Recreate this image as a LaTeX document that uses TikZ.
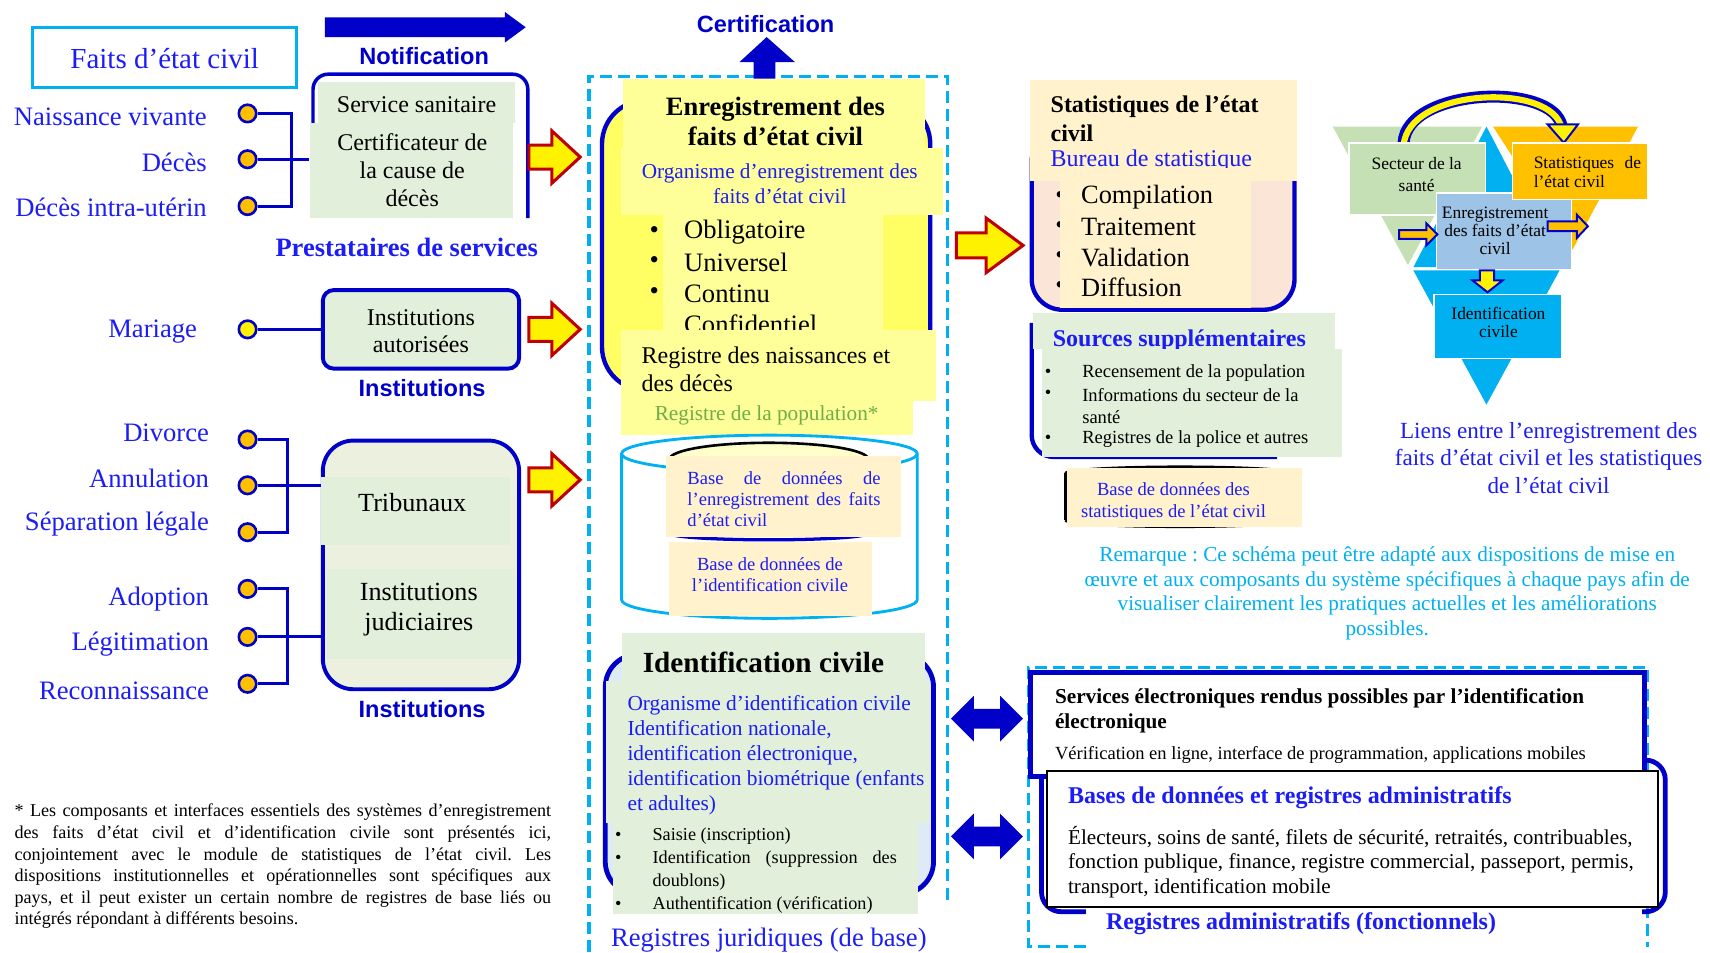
\documentclass[tikz,border=0pt]{standalone}
\usepackage{fontspec}
\setmainfont{Liberation Serif}
\setsansfont{Liberation Sans}
\usepackage{tikz}
\usetikzlibrary{fit}
\definecolor{tblue}{RGB}{28,28,245}
\definecolor{dblue}{RGB}{0,0,200}
\definecolor{cyanb}{RGB}{0,176,240}
\definecolor{pgreen}{RGB}{226,239,218}
\definecolor{bgreen}{RGB}{235,241,222}
\definecolor{yfill}{RGB}{255,255,100}
\definecolor{ypanel}{RGB}{255,255,153}
\definecolor{ylight}{RGB}{255,255,204}
\definecolor{peach}{RGB}{255,242,204}
\definecolor{pinkfill}{RGB}{251,229,214}
\definecolor{idfill}{RGB}{222,235,247}
\definecolor{orng}{RGB}{255,192,0}
\definecolor{dred}{RGB}{192,0,0}
\definecolor{popgreen}{RGB}{112,173,71}
\definecolor{trigreen}{RGB}{197,224,180}
\definecolor{triblue}{RGB}{157,195,230}
\newcommand{\fsz}[2]{\fontsize{#1}{#2}\selectfont}
\frenchspacing
\tikzstyle{evtdot}=[circle, draw=dblue, line width=1.2pt, fill=orng, inner sep=0pt, minimum size=8pt]
\tikzstyle{evtlabel}=[anchor=east, inner sep=0pt, text=tblue, font=\fsz{12.2}{14}]
\tikzstyle{link}=[draw=dblue, line width=1.3pt]
\tikzstyle{rolelabel}=[inner sep=0pt, text=dblue, font=\sffamily\bfseries\fsz{10.8}{12}]
\tikzstyle{blockbox}=[inner sep=0pt, draw=dblue, line width=1.8pt]
\tikzstyle{txt}=[inner sep=0pt]
\tikzstyle{fatarrow}=[draw=dred, fill=yellow, line width=1.4pt, line join=miter]
\tikzstyle{minibox}=[inner sep=0pt, draw=white, line width=0.6pt]
\tikzstyle{minarrow}=[draw=dblue, line width=0.9pt, line join=miter]
\tikzstyle{dashbox}=[draw=cyanb, line width=1.5pt, dash pattern=on 5.5pt off 2.8pt]
\tikzset{pics/yarrow/.style={code={\draw[fatarrow] (0,-11) -- (21,-11) -- (21,-24) -- (47,0) -- (21,24) -- (21,11) -- (0,11) -- cycle;}}}
\tikzset{pics/dblarrow/.style={code={\fill[dblue] (-33,0) -- (-12,-21) -- (-12,-9) -- (12,-9) -- (12,-21) -- (33,0) -- (12,21) -- (12,9) -- (-12,9) -- (-12,21) -- cycle;}}}

\begin{document}
\begin{tikzpicture}[x=0.5pt, y=-0.5pt]
\useasboundingbox (0,0) rectangle (1568,873);

\begin{scope}
  \node[inner sep=0pt, draw=cyanb, line width=1.5pt, fit={(30,25) (272,80)}] (faits) {};
  \node[txt, text=tblue, font=\fsz{13.3}{16}] (faitstxt) at (151,54) {Faits d’état civil};
  \fill[dblue] (298,16) -- (463,16) -- (463,11) -- (482,25) -- (463,39) -- (463,34) -- (298,34) -- cycle;
  \node[rolelabel] (notif) at (389,51) {Notification};

  \draw[dblue, line width=1.6pt, rounded corners=7pt] (287,150) |- (484,68) -- (484,200);
  \node[inner sep=0pt, fit={(284,68) (484,200)}] (svc) {};
  \fill[pgreen] (292,75) rectangle (472,113);
  \fill[pgreen] (284,113) rectangle (470,200);
  \node[txt, font=\fsz{11}{13}] (svcsan) at (382,96) {Service sanitaire};
  \node[txt, font=\fsz{11}{12.8}, align=center] (cert) at (378,156) {Certificateur de\\la cause de\\décès};

  \node[evtdot] (nv) at (227,104) {};
  \node[evtdot] (dc) at (227,146) {};
  \node[evtdot] (diu) at (227,189) {};
  \node[evtlabel] (lnv) at (190,107) {Naissance vivante};
  \node[evtlabel] (ldc) at (190,149) {Décès};
  \node[evtlabel] (ldiu) at (190,190) {Décès intra-utérin};
  \node[txt, text=tblue, font=\bfseries\fsz{12.15}{14}] (prest) at (373,227) {Prestataires de services};

  \node[evtdot, fill=yellow] (mar) at (227,302) {};
  \node[evtlabel] (lmar) at (181,304) {Mariage};
  \node[blockbox, rounded corners=5pt, fill=pgreen, fit={(296,266) (476,338)}] (auto) {};
  \node[txt, font=\fsz{11}{12.5}, align=center] (autotxt) at (386,303.5) {Institutions\\autorisées};
  \node[rolelabel] (inst1) at (387,356) {Institutions};

  \node[blockbox, rounded corners=14pt, fill=bgreen, fit={(296,404) (476,632)}] (jud) {};
  \fill[pgreen] (294,437) rectangle (468,500);
  \fill[pgreen] (300,522) rectangle (472,604);
  \node[txt, font=\fsz{12}{14}] (tribtxt) at (378,461) {Tribunaux};
  \node[txt, font=\fsz{12}{14}, align=center] (judtxt) at (384,559) {Institutions\\judiciaires};
  \foreach \nm/\yy/\lab/\ly in {div/403/Divorce/397, ann/445/Annulation/439, sep/488/Séparation légale/481, ado/540/Adoption/549, leg/584/Légitimation/591, rec/627/Reconnaissance/633}{
    \node[evtdot] (\nm) at (227,\yy) {};
    \node[evtlabel] (l\nm) at (192,\ly) {\lab};
  }
  \node[rolelabel] (inst2) at (387,650) {Institutions};
  \coordinate (j1) at (267,146);
  \coordinate (j2) at (264,445);
  \coordinate (j3) at (264,584);
\end{scope}

\begin{scope}
  \draw[link] (nv) -| (j1) |- (diu);
  \draw[link] (dc) -- (dc -| svc.west);
  \draw[link] (mar) -- (auto);
  \draw[link] (div) -| (j2) |- (sep);
  \draw[link] (ann) -- (ann -| jud.west);
  \draw[link] (ado) -| (j3) |- (rec);
  \draw[link] (leg) -- (leg -| jud.west);
  \pic at (485,144) {yarrow};
  \pic at (485,302) {yarrow};
  \pic at (485,440) {yarrow};
\end{scope}

\node[txt, anchor=north west, text width=246pt, align=justify, font=\fsz{8.3}{9.9}] (note) at (13,737) {\hyphenpenalty=10000 * Les composants et interfaces essentiels des systèmes d’enregistrement\linebreak des faits d’état civil et d’identification civile sont présentés ici,\linebreak conjointement avec le module de statistiques de l’état civil. Les\linebreak dispositions institutionnelles et opérationnelles sont spécifiques aux\linebreak pays, et il peut exister un certain nombre de registres de base liés ou\linebreak intégrés répondant à différents besoins.};

\begin{scope}
  \draw[dashbox] (540,873) -- (540,70) -- (869,70) -- (869,830);
  \fill[dblue] (691,72) -- (691,57) -- (678,57) -- (703,34) -- (729,57) -- (711,57) -- (711,72) -- cycle;
  \node[rolelabel] (certif) at (702,22) {Certification};

  \node[blockbox, line width=2pt, rounded corners=20pt, fill=yfill, fit={(552,92) (853,358)}] (enreg) {};
  \fill[ypanel] (571,72) rectangle (848,136);
  \node[txt, font=\bfseries\fsz{12.15}{13.5}, align=center] (enregtitle) at (711,111.5) {Enregistrement des\\faits d’état civil};
  \fill[ypanel] (569,136) rectangle (865,197);
  \node[txt, text=tblue, font=\fsz{9.75}{11.5}, align=center] (enregorg) at (715,168.5) {Organisme d’enregistrement des\\faits d’état civil};
  \fill[ypanel] (608,197) rectangle (810,303);
  \foreach \t [count=\i] in {Obligatoire, Universel, Continu}{
    \node[txt, font=\fsz{12.2}{14}] (eb\i) at (600,185+28*\i) {\textbullet};
    \node[txt, anchor=west, font=\fsz{12.2}{14}] (eq\i) at (627,185+28*\i) {\t};
  }
  \node[txt, anchor=west, font=\fsz{12.2}{14}] (eq4) at (627,297) {Confidentiel};
  \fill[ypanel] (569,303) rectangle (858,368);
  \node[txt, anchor=west, align=left, font=\fsz{11}{12.5}] (regnd) at (588,338.5) {Registre des naissances et\\des décès};
  \fill[ypanel] (569,368) rectangle (837,399);
  \node[txt, text=popgreen, font=\fsz{9.75}{11}] (regpop) at (703,381) {Registre de la population*};

  \draw[cyanb, line width=1.3pt, fill=white] (570,416) -- (570,550) arc[start angle=180, end angle=0, x radius=135.5, y radius=17] -- (841,416);
  \draw[cyanb, line width=1.3pt] (705.5,416) ellipse [x radius=135.5, y radius=17];
  \draw[black, line width=1.2pt, fill=ylight] (705,421) ellipse [x radius=91, y radius=15];
  \draw[dblue, line width=1.5pt] (614,489) arc[start angle=180, end angle=0, x radius=91, y radius=6];
  \fill[peach] (611,418) rectangle (826,492);
  \node[txt, anchor=west, text=tblue, text width=88.5pt, align=justify, font=\fsz{8.5}{9.75}] (dbec) at (630,457.5) {Base de données de\linebreak l’enregistrement des faits\linebreak d’état civil};
  \fill[peach] (613,497) rectangle (800,565);
  \node[txt, text=tblue, align=center, font=\fsz{8.5}{10}] (dbid) at (706,527) {Base de données de\\l’identification civile};

  \node[blockbox, line width=2.2pt, rounded corners=15pt, fill=idfill, fit={(555,600) (856,820)}] (idciv) {};
  \fill[pgreen] (570,580) rectangle (848,624);
  \node[txt, font=\bfseries\fsz{13.4}{15}] (idtitle) at (700,607) {Identification civile};
  \fill[pgreen] (556,624) rectangle (853,755);
  \node[txt, anchor=west, align=left, text=tblue, font=\fsz{9.8}{11.4}] (idorg) at (575,692.5) {Organisme d’identification civile\\Identification nationale,\\identification électronique,\\identification biométrique (enfants\\et adultes)};
  \fill[pgreen] (562,755) rectangle (842,838);
  \foreach \yy in {767,788,830}{
    \node[txt, font=\fsz{8.35}{10}] (idb\yy) at (567,\yy) {\textbullet};
  }
  \node[txt, anchor=west, font=\fsz{8.35}{10}] (ids1) at (598,767) {Saisie (inscription)};
  \node[txt, anchor=west, font=\fsz{8.35}{10}] (ids2) at (598,788) {\makebox[112pt][s]{Identification (suppression des}};
  \node[txt, anchor=west, font=\fsz{8.35}{10}] (ids3) at (598,809) {doublons)};
  \node[txt, anchor=west, font=\fsz{8.35}{10}] (ids4) at (598,830) {Authentification (vérification)};
  \node[txt, text=tblue, font=\fsz{12.2}{14}] (regjur) at (705,862) {Registres juridiques (de base)};

  \pic at (905,659) {dblarrow};
  \pic at (905,767) {dblarrow};
  \pic[xscale=1.3, yscale=1.04] at (877,225) {yarrow};
\end{scope}

\begin{scope}
  \node[blockbox, line width=2pt, rounded corners=14pt, fill=pinkfill, fit={(946,120) (1187,284)}] (stats) {};
  \fill[peach] (944,73) rectangle (1189,166);
  \node[txt, anchor=west, align=left, font=\bfseries\fsz{11}{13}] (statstitle) at (963,109) {Statistiques de l’état\\civil};
  \begin{scope}
    \clip (944,73) rectangle (1189,154);
    \node[txt, anchor=west, text=tblue, font=\fsz{11}{13}] (bureau) at (963,147) {Bureau de statistique};
  \end{scope}
  \foreach \t [count=\i] in {Compilation, Traitement, Validation, Diffusion}{
    \node[txt, font=\fsz{12.1}{14}] (sb\i) at (972,153+27.7*\i) {\textbullet};
  }
  \fill[peach] (972,166) rectangle (1147,282);
  \foreach \t [count=\i] in {Compilation, Traitement, Validation, Diffusion}{
    \node[txt, anchor=west, font=\fsz{12.1}{14}] (sq\i) at (991,153+27.7*\i) {\t};
  }

  \draw[dblue, line width=2pt, rounded corners=10pt] (946,296) |- (1171,419);
  \node[inner sep=0pt, fit={(946,287) (1231,419)}] (sources) {};
  \fill[pgreen] (947,287) rectangle (1224,320);
  \node[txt, anchor=west, text=tblue, font=\bfseries\fsz{11}{13}] (srctitle) at (965,312) {Sources supplémentaires};
  \fill[pgreen] (955,320) rectangle (1231,419);
  \foreach \yy in {342,362,403}{
    \node[txt, font=\fsz{8.5}{10}] (srcb\yy) at (961,\yy) {\textbullet};
  }
  \begin{scope}
    \clip (955,320) rectangle (1231,410);
    \node[txt, anchor=west, font=\fsz{8.5}{10.25}] (src1) at (992,342) {Recensement de la population};
    \node[txt, anchor=west, align=left, font=\fsz{8.5}{10.25}] (src2) at (992,372.5) {Informations du secteur de la\\santé};
    \node[txt, anchor=west, font=\fsz{8.5}{10.25}] (src3) at (992,403) {Registres de la police et autres};
  \end{scope}

  \draw[black, line width=1.2pt] (977,434) arc[start angle=180, end angle=360, x radius=105, y radius=6];
  \draw[black, line width=1.2pt] (977,477) arc[start angle=180, end angle=0, x radius=105, y radius=6];
  \draw[black, line width=1.2pt] (977,434) -- (977,477);
  \node[inner sep=0pt, fill=peach, fit={(978,429) (1194,483)}] (dbstat) {};
  \begin{scope}
    \clip (978,429) rectangle (1194,475);
    \node[txt, text=tblue, align=center, font=\fsz{8.5}{10}] (dbstattxt) at (1076,460) {Base de données des\\statistiques de l’état civil};
  \end{scope}
\end{scope}

\begin{scope}
  \fill[trigreen] (1222,116) -- (1359,116) -- (1291,243) -- cycle;
  \fill[orng] (1369,116) -- (1502,116) -- (1442,229) -- cycle;
  \fill[cyanb] (1363,116) -- (1430,245) -- (1296,245) -- cycle;
  \fill[cyanb] (1296,248) -- (1430,248) -- (1363,371) -- cycle;
  \draw[dblue, line width=5.5pt] (1287,131) .. controls (1290,80) and (1425,75) .. (1432,116);
  \draw[yellow, line width=2.8pt] (1287,134) .. controls (1290,80) and (1425,75) .. (1432,118);
  \draw[minarrow, fill=yellow] (1419,114) -- (1447,114) -- (1434,131) -- cycle;

  \node[minibox, fill=trigreen, fit={(1237,131) (1362,197)}] (tsect) {};
  \node[txt, font=\fsz{8}{10}, align=center] (tsecttxt) at (1299,160) {Secteur de la\\santé};
  \node[minibox, fill=triblue, fit={(1317,177) (1441,247)}] (tenreg) {};
  \node[txt, font=\fsz{8}{8.4}, align=center] (tenregtxt) at (1371,211.5) {Enregistrement\\des faits d’état\\civil};
  \node[minibox, fill=orng, fit={(1387,131) (1511,183)}] (tstat) {};
  \node[txt, font=\fsz{8}{8.5}, align=left, anchor=west] (tstattxt) at (1406,157.5) {Statistiques\hspace{0.6em}de\\l’état civil};
  \node[minibox, fill=cyanb, fit={(1315,270) (1432,329)}] (tid) {};
  \node[txt, font=\fsz{8}{8.3}, align=center] (tidtxt) at (1374,296) {Identification\\civile};

  \draw[minarrow, fill=orng] (1283,211) -- (1308,211) -- (1308,205) -- (1318,215) -- (1308,225) -- (1308,219) -- (1283,219) -- cycle;
  \draw[minarrow, fill=orng] (1419,203) -- (1446,203) -- (1446,197) -- (1456,207.5) -- (1446,218) -- (1446,212) -- (1419,212) -- cycle;
  \draw[minarrow, fill=yellow] (1357,248) -- (1370,248) -- (1370,257) -- (1378,257) -- (1364,268) -- (1350,257) -- (1357,257) -- cycle;

  \node[txt, text=tblue, font=\fsz{10.6}{12.5}, align=center] (caption) at (1420,420) {Liens entre l’enregistrement des\\faits d’état civil et les statistiques\\de l’état civil};
  \node[txt, text=cyanb, font=\fsz{9.75}{11.2}, align=center] (remark) at (1272,544) {Remarque : Ce schéma peut être adapté aux dispositions de mise en\\œuvre et aux composants du système spécifiques à chaque pays afin de\\visualiser clairement les pratiques actuelles et les améliorations\\possibles.};
\end{scope}

\begin{scope}
  \draw[dashbox] (996,868) -- (943,868) -- (943,612) -- (1511,612) -- (1511,868);
  \draw[dblue, line width=2.2pt, rounded corners=9pt] (955,697) rectangle (1527,836);
  \node[inner sep=0pt, draw=dblue, line width=2.2pt, fill=white, fit={(945,617) (1508,712)}] (eserv) {};
  \node[txt, anchor=west, align=left, font=\bfseries\fsz{9.75}{11.5}] (eservtitle) at (967,652) {Services électroniques rendus possibles par l’identification\\électronique};
  \node[txt, anchor=west, font=\fsz{8.5}{10}] (eservtxt) at (967,692) {Vérification en ligne, interface de programmation, applications mobiles};
  \node[inner sep=0pt, draw=black, line width=0.8pt, fill=white, fit={(960,707) (1520,832)}] (admdb) {};
  \node[txt, anchor=west, text=tblue, font=\bfseries\fsz{11}{13}] (admtitle) at (979,731) {Bases de données et registres administratifs};
  \node[txt, anchor=west, align=left, font=\fsz{9.7}{11.25}] (admtxt) at (979,790.5) {Électeurs, soins de santé, filets de sécurité, retraités, contribuables,\\fonction publique, finance, registre commercial, passeport, permis,\\transport, identification mobile};
  \fill[white] (996,833.5) rectangle (1506,873);
  \node[txt, text=tblue, font=\bfseries\fsz{11}{13}] (admreg) at (1193,847) {Registres administratifs (fonctionnels)};
\end{scope}
\end{tikzpicture}
\end{document}
